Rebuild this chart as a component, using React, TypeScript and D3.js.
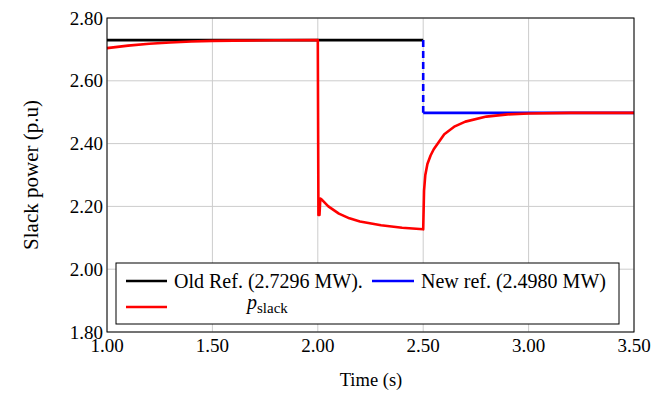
import * as d3 from 'd3';

// Values
const xTicks = [1.0, 1.5, 2.0, 2.5, 3.0, 3.5];
const yTicks = [1.8, 2.0, 2.2, 2.4, 2.6, 2.8];

const oldRefT = [1.0, 2.5];
const oldRefP = [2.7296, 2.7296];

const stepT = [2.5, 2.5];
const stepP = [2.7296, 2.498];

const newRefT = [2.5, 3.5];
const newRefP = [2.498, 2.498];

const slackT = [
  1.0, 1.1, 1.2, 1.3, 1.4, 1.5, 1.6, 1.8, 2.0, 2.003, 2.008, 2.012, 2.02, 2.05, 2.1, 2.15, 2.2,
  2.3, 2.4, 2.5, 2.504, 2.51, 2.52, 2.535, 2.55, 2.6, 2.65, 2.7, 2.8, 2.9, 3.0, 3.2, 3.5,
];
const slackP = [
  2.704, 2.712, 2.718, 2.722, 2.725, 2.727, 2.728, 2.729, 2.7296, 2.173, 2.173, 2.225, 2.221, 2.2,
  2.177, 2.162, 2.152, 2.14, 2.132, 2.127, 2.25, 2.3, 2.335, 2.362, 2.382, 2.43, 2.455, 2.47,
  2.486, 2.493, 2.496, 2.498, 2.498,
];

const W = 654;
const H = 395;
const margin = { left: 107, right: 20, top: 18, bottom: 63 };
const font = '"Liberation Serif", "Times New Roman", serif';

export default function App() {
  const x = d3.scaleLinear().domain([1.0, 3.5]).range([margin.left, W - margin.right]);
  const y = d3.scaleLinear().domain([1.8, 2.8]).range([H - margin.bottom, margin.top]);

  const line = d3
    .line<[number, number]>()
    .x((d) => x(d[0]))
    .y((d) => y(d[1]));

  const zip = (t: number[], p: number[]) => t.map((v, i) => [v, p[i]] as [number, number]);

  const x0 = x.range()[0];
  const x1 = x.range()[1];
  const y0 = y.range()[0];
  const y1 = y.range()[1];

  // legend box
  const lx = 116;
  const ly = 263;
  const lw = 503;
  const lh = 61;
  const row1 = 281;
  const row2 = 307;

  return (
    <div style={{ position: 'absolute', left: 0, top: 0 }}>
      <svg width={W} height={H} style={{ display: 'block', fontFamily: font }}>
        <rect width={W} height={H} fill="#fff" />
        {/* grid */}
        {xTicks.map((t) => (
          <line key={'gx' + t} x1={x(t)} x2={x(t)} y1={y1} y2={y0} stroke="#cccccc" strokeWidth={1} />
        ))}
        {yTicks.map((t) => (
          <line key={'gy' + t} x1={x0} x2={x1} y1={y(t)} y2={y(t)} stroke="#cccccc" strokeWidth={1} />
        ))}

        {/* series */}
        <path d={line(zip(oldRefT, oldRefP)) || ''} fill="none" stroke="#000" strokeWidth={2.6} />
        <path
          d={line(zip(stepT, stepP)) || ''}
          fill="none"
          stroke="#0000ff"
          strokeWidth={2.6}
          strokeDasharray="7 4"
        />
        <path d={line(zip(newRefT, newRefP)) || ''} fill="none" stroke="#0000ff" strokeWidth={2.6} />
        <path
          d={line(zip(slackT, slackP)) || ''}
          fill="none"
          stroke="#ff0000"
          strokeWidth={2.6}
          strokeLinejoin="round"
        />

        {/* frame */}
        <rect x={x0} y={y1} width={x1 - x0} height={y0 - y1} fill="none" stroke="#000" strokeWidth={1} />

        {/* tick labels */}
        {xTicks.map((t) => (
          <text key={'tx' + t} x={x(t)} y={y0 + 20} textAnchor="middle" fontSize={19} fill="#000">
            {t.toFixed(2)}
          </text>
        ))}
        {yTicks.map((t) => (
          <text key={'ty' + t} x={x0 - 4} y={y(t) + 6.5} textAnchor="end" fontSize={19} fill="#000">
            {t.toFixed(2)}
          </text>
        ))}

        {/* axis labels */}
        <text x={371} y={386} textAnchor="middle" fontSize={18.5} fill="#000">
          Time (s)
        </text>
        <text
          transform={`translate(38, ${(y0 + y1) / 2}) rotate(-90)`}
          textAnchor="middle"
          fontSize={21}
          fill="#000"
        >
          Slack power (p.u)
        </text>

        {/* legend */}
        <rect x={lx} y={ly} width={lw} height={lh} fill="#fff" stroke="#000" strokeWidth={1} />
        <line x1={lx + 10} x2={lx + 51} y1={row1} y2={row1} stroke="#000" strokeWidth={2.6} />
        <text x={lx + 58} y={row1 + 7} fontSize={20} fill="#000">
          Old Ref. (2.7296 MW).
        </text>
        <line x1={lx + 256} x2={lx + 298} y1={row1} y2={row1} stroke="#0000ff" strokeWidth={2.6} />
        <text x={lx + 305} y={row1 + 7} fontSize={20} fill="#000">
          New ref. (2.4980 MW)
        </text>
        <line x1={lx + 10} x2={lx + 51} y1={row2} y2={row2} stroke="#ff0000" strokeWidth={2.6} />
        <text x={247} y={row2 + 2} fontSize={20} fill="#000">
          <tspan fontStyle="italic">p</tspan>
          <tspan fontSize={15} dy={4}>
            slack
          </tspan>
        </text>
      </svg>
    </div>
  );
}
